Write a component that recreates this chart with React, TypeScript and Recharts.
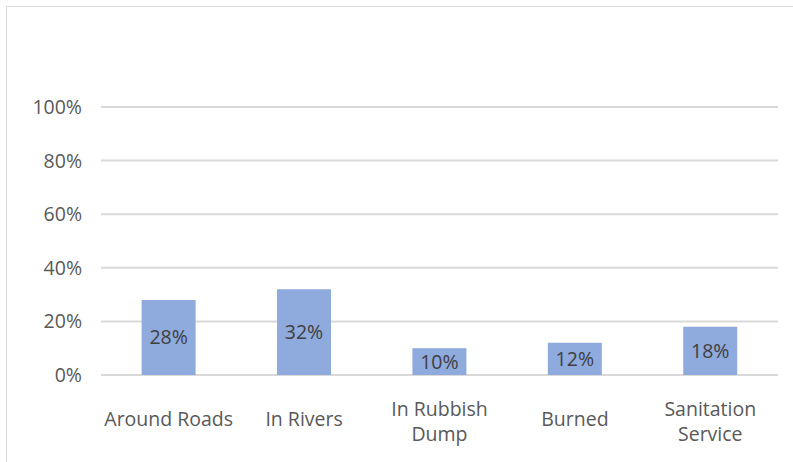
import React from 'react';
import { BarChart, Bar, XAxis, YAxis, CartesianGrid, LabelList } from 'recharts';

const categories = ['Around Roads', 'In Rivers', 'In Rubbish Dump', 'Burned', 'Sanitation Service'];
const shares = [28, 32, 10, 12, 18];
const tickLines = [['Around Roads'], ['In Rivers'], ['In Rubbish', 'Dump'], ['Burned'], ['Sanitation', 'Service']];
const yTicks = [0, 20, 40, 60, 80, 100];

const data = categories.map((name, i) => ({ name, value: shares[i] }));

const FONT = '"Open Sans", "Noto Sans", sans-serif';

const CategoryTick = (props: any) => {
    const { x, y, index } = props;
    const lines = tickLines[index] || [String(props.payload.value)];
    const startY = lines.length === 1 ? y + 35 : y + 25;
    return (
        <g>
            {lines.map((line, i) => (
                <text
                    key={line}
                    x={x}
                    y={startY + i * 25}
                    textAnchor="middle"
                    dominantBaseline="central"
                    fill="#595959"
                    fontSize={19.5}
                    fontFamily={FONT}
                >
                    {line}
                </text>
            ))}
        </g>
    );
};

const App = () => {
    return (
        <div style={{ position: 'relative', width: 793, height: 462 }}>
            <style>{'body{margin:0;}'}</style>
            <div
                style={{
                    position: 'absolute',
                    left: 6,
                    top: 6,
                    width: 800,
                    height: 470,
                    border: '1.5px solid #d9d9d9',
                    boxSizing: 'border-box',
                }}
            />
            <div style={{ position: 'absolute', left: 0, top: 0 }}>
                <BarChart
                    width={793}
                    height={462}
                    data={data}
                    margin={{ top: 107, right: 15, left: 0, bottom: 0 }}
                    barCategoryGap="30%"
                >
                    <CartesianGrid vertical={false} stroke="#d9d9d9" strokeWidth={2} />
                    <XAxis
                        dataKey="name"
                        axisLine={false}
                        tickLine={false}
                        interval={0}
                        height={87}
                        tick={<CategoryTick />}
                    />
                    <YAxis
                        domain={[0, 100]}
                        ticks={yTicks}
                        width={101}
                        axisLine={false}
                        tickLine={false}
                        tickSize={0}
                        tickMargin={19}
                        tickFormatter={(v: number) => `${v}%`}
                        tick={{ fill: '#595959', fontSize: 19.5, fontFamily: FONT }}
                    />
                    <Bar dataKey="value" fill="#8faadc" isAnimationActive={false}>
                        <LabelList
                            dataKey="value"
                            position="center"
                            formatter={(v: any) => `${v}%`}
                            fill="#404040"
                            fontSize={19.5}
                            fontFamily={FONT}
                        />
                    </Bar>
                </BarChart>
            </div>
        </div>
    );
};

export default App;
